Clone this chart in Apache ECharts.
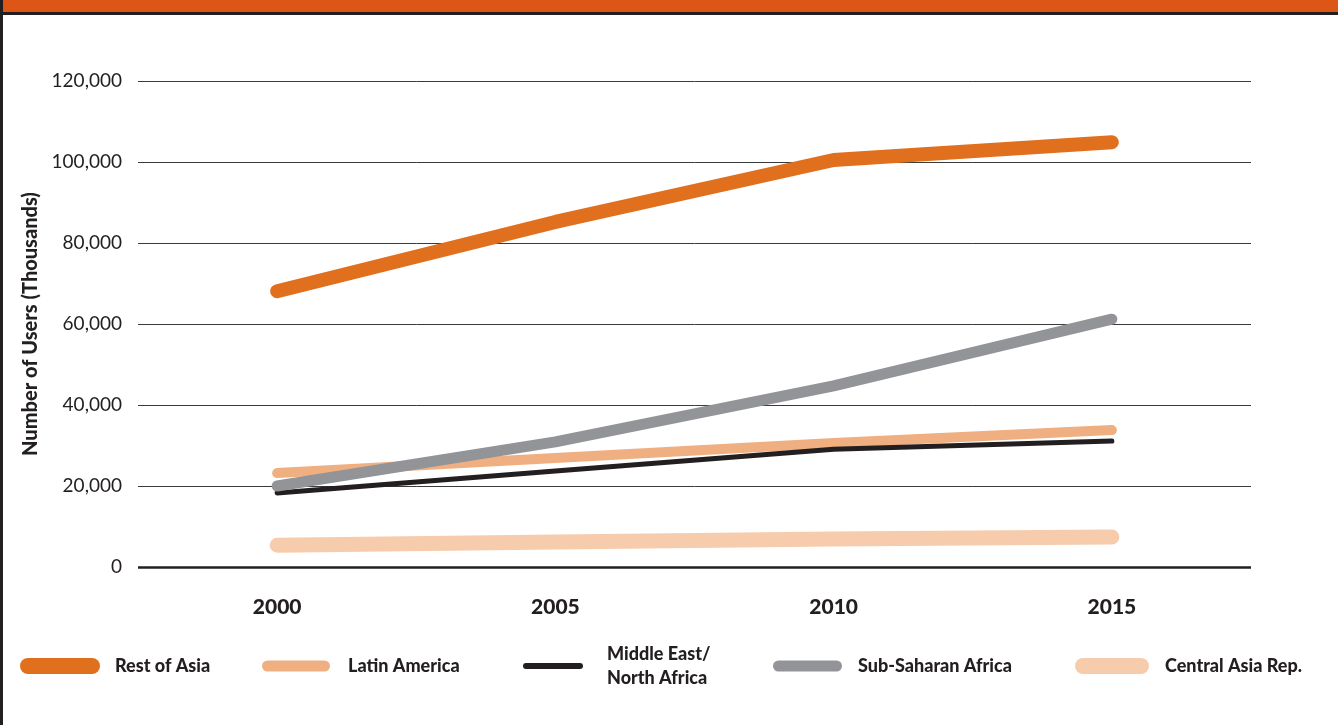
<!DOCTYPE html>
<html>
<head>
<meta charset="utf-8">
<script src="https://cdn.jsdelivr.net/npm/echarts@6/dist/echarts.min.js"></script>
<style>
  html, body { margin: 0; padding: 0; background: #fff; }
  #chart { width: 1338px; height: 725px; }
</style>
</head>
<body>
<div id="chart"></div>
<script>
// Years on the category axis
const years = ['2000', '2005', '2010', '2015'];

// Number of users (thousands) per region
const restOfAsia     = [68100, 85200, 100500, 104900];
const latinAmerica   = [23200, 26900, 30600, 33800];
const middleEast     = [18300, 23700, 29100, 31100];
const subSaharan     = [20000, 30900, 44700, 61200];
const centralAsia    = [5400, 6200, 6900, 7400];

// Series names as shown in the legend
const names = ['Rest of Asia', 'Latin America', 'Middle East/\nNorth Africa', 'Sub-Saharan Africa', 'Central Asia Rep.'];

// Y axis ticks
const yMax = 120000;
const yStep = 20000;

const colors = {
  asia: '#E0701E',
  latin: '#F0AF80',
  mena: '#231F20',
  ssa: '#929497',
  central: '#F6CCAC'
};

const FONT = 'Lato, "DejaVu Sans", sans-serif';

const chart = echarts.init(document.getElementById('chart'), null, { renderer: 'canvas' });

function lineSeries(name, data, color, width, z) {
  return {
    name: name,
    type: 'line',
    data: data,
    symbol: 'none',
    z: z,
    lineStyle: { color: color, width: width, cap: 'round', join: 'round' },
    itemStyle: { color: color },
    animation: false
  };
}

// Legend swatches (pill shapes) and labels
const legendItems = [
  { name: names[0], color: colors.asia,    x: 20,   w: 80, h: 16, tx: 115 },
  { name: names[1], color: colors.latin,   x: 262,  w: 68, h: 11, tx: 348 },
  { name: names[2], color: colors.mena,    x: 523,  w: 60, h: 6,  tx: 607 },
  { name: names[3], color: colors.ssa,     x: 773,  w: 69, h: 11, tx: 858 },
  { name: names[4], color: colors.central, x: 1075, w: 74, h: 16, tx: 1165 }
];
const legendY = 666;
const graphics = [];
legendItems.forEach(it => {
  const twoLines = it.name.indexOf('\n') >= 0;
  graphics.push({
    type: 'rect',
    left: it.x, top: legendY - it.h / 2,
    shape: { width: it.w, height: it.h, r: it.h / 2 },
    style: { fill: it.color }
  });
  graphics.push({
    type: 'text',
    left: it.tx, top: legendY - (twoLines ? 24 : 12),
    style: {
      text: it.name,
      fill: '#231F20',
      font: '900 18px ' + FONT,
      lineHeight: 24
    }
  });
});

// Frame: orange header band, rule beneath it, left border
graphics.push({ type: 'rect', left: 0, top: 0, shape: { width: 1338, height: 13 }, style: { fill: '#DD5616' }, z: 10 });
graphics.push({ type: 'rect', left: 0, top: 12, shape: { width: 1338, height: 3 }, style: { fill: '#231F20' }, z: 10 });
graphics.push({ type: 'rect', left: 0, top: 0, shape: { width: 3, height: 725 }, style: { fill: '#231F20' }, z: 10 });

chart.setOption({
  backgroundColor: '#fff',
  animation: false,
  grid: { left: 138, right: 87, top: 81, bottom: 158, containLabel: false },
  xAxis: {
    type: 'category',
    data: years,
    boundaryGap: true,
    axisLine: { show: false },
    axisTick: { show: false },
    axisLabel: {
      margin: 30,
      color: '#231F20',
      fontFamily: FONT,
      fontWeight: 900,
      fontSize: 21
    }
  },
  yAxis: {
    type: 'value',
    min: 0,
    max: yMax,
    interval: yStep,
    name: 'Number of Users (Thousands)',
    nameLocation: 'middle',
    nameGap: 94,
    nameRotate: 90,
    nameTextStyle: {
      color: '#231F20',
      fontFamily: FONT,
      fontWeight: 900,
      fontSize: 20
    },
    axisLine: { show: false },
    axisTick: { show: false },
    axisLabel: {
      margin: 16,
      color: '#231F20',
      fontFamily: FONT,
      fontSize: 19,
      formatter: v => v.toLocaleString('en-US')
    },
    splitLine: {
      lineStyle: { color: '#3a3a3a', width: 1 }
    }
  },
  series: [
    lineSeries(names[4], centralAsia, colors.central, 15, 2),
    lineSeries(names[1], latinAmerica, colors.latin, 10, 3),
    lineSeries(names[2], middleEast, colors.mena, 5, 4),
    lineSeries(names[3], subSaharan, colors.ssa, 11, 5),
    lineSeries(names[0], restOfAsia, colors.asia, 14, 6),
    {
      // heavier baseline at zero
      type: 'line',
      data: [],
      markLine: {
        silent: true,
        symbol: 'none',
        label: { show: false },
        lineStyle: { color: '#231F20', width: 2.5, type: 'solid' },
        data: [{ yAxis: 0 }]
      },
      z: 1
    }
  ],
  graphic: graphics
});
</script>
</body>
</html>
